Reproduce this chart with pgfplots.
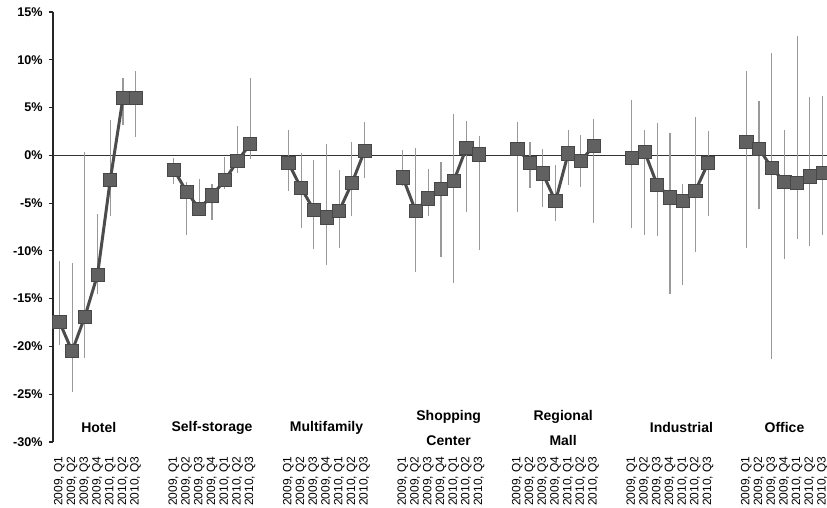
\documentclass[border=0pt]{standalone}
\usepackage{pgfplots}
\pgfplotsset{compat=1.18}
\usepackage{pgfplotstable}
\usepackage{fontspec}
\setmainfont{Liberation Sans}

\pgfplotstableread{
x y lo hi
0 -17.4 -19.9 -11.1
1 -20.5 -24.8 -11.3
2 -16.9 -21.2 0.3
3 -12.5 -14.5 -6.1
4 -2.6 -6.4 3.7
5 6.0 3.2 8.1
6 6.0 1.9 8.8
7 nan nan nan
9 -1.5 -3.0 -0.3
10 -3.8 -8.3 -2.8
11 -5.6 -6.4 -2.5
12 -4.2 -6.8 -3.0
13 -2.6 -3.5 -0.2
14 -0.6 -1.8 3.1
15 1.2 -0.4 8.1
16 nan nan nan
18 -0.8 -3.7 2.7
19 -3.4 -7.6 0.2
20 -5.7 -9.8 -0.5
21 -6.5 -11.5 1.2
22 -5.8 -9.7 -1.5
23 -2.9 -6.4 1.4
24 0.5 -2.4 3.5
25 nan nan nan
27 -2.3 -3.2 0.6
28 -5.8 -12.2 0.8
29 -4.5 -6.3 -1.4
30 -3.5 -10.6 -0.7
31 -2.7 -13.4 4.3
32 0.8 -5.9 3.6
33 0.1 -9.9 2.0
34 nan nan nan
36 0.7 -5.9 3.5
37 -0.8 -3.4 1.4
38 -1.9 -5.4 0.7
39 -4.8 -6.9 -1.0
40 0.2 -3.1 2.6
41 -0.6 -3.3 2.1
42 1.0 -7.1 3.8
43 nan nan nan
45 -0.3 -7.6 5.8
46 0.4 -8.3 2.7
47 -3.1 -8.4 3.4
48 -4.4 -14.5 2.3
49 -4.8 -13.6 -3.0
50 -3.7 -10.1 4.0
51 -0.8 -6.3 2.5
52 nan nan nan
54 1.4 -9.7 8.8
55 0.7 -5.6 5.7
56 -1.3 -21.3 10.7
57 -2.8 -10.9 2.6
58 -2.9 -8.8 12.5
59 -2.2 -9.5 6.1
60 -1.8 -8.3 6.2
}\datatable

\begin{document}
\begin{tikzpicture}
\begin{axis}[
  at={(0,0)}, anchor=south west, name=ax,
  scale only axis, width=388pt, height=215pt,
  xmin=-0.5, xmax=60.5, ymin=-30, ymax=15,
  axis y line*=left, axis x line*=bottom,
  x axis line style={draw=none},
  y axis line style={black!85, line width=0.6pt},
  x tick style={draw=none},
  y tick style={black!85, line width=0.6pt},
  tick align=outside, major tick length=2pt,
  ytick={-30,-25,-20,-15,-10,-5,0,5,10,15},
  yticklabels={{-30\%},{-25\%},{-20\%},{-15\%},{-10\%},{-5\%},{0\%},{5\%},{10\%},{15\%}},
  yticklabel style={font=\bfseries\fontsize{6.3}{7}\selectfont, inner sep=0pt, xshift=-3pt},
  xtick={0,1,2,3,4,5,6,9,10,11,12,13,14,15,18,19,20,21,22,23,24,27,28,29,30,31,32,33,36,37,38,39,40,41,42,45,46,47,48,49,50,51,54,55,56,57,58,59,60},
  xticklabels={
   {2009, Q1},{2009, Q2},{2009, Q3},{2009, Q4},{2010, Q1},{2010, Q2},{2010, Q3},
   {2009, Q1},{2009, Q2},{2009, Q3},{2009, Q4},{2010, Q1},{2010, Q2},{2010, Q3},
   {2009, Q1},{2009, Q2},{2009, Q3},{2009, Q4},{2010, Q1},{2010, Q2},{2010, Q3},
   {2009, Q1},{2009, Q2},{2009, Q3},{2009, Q4},{2010, Q1},{2010, Q2},{2010, Q3},
   {2009, Q1},{2009, Q2},{2009, Q3},{2009, Q4},{2010, Q1},{2010, Q2},{2010, Q3},
   {2009, Q1},{2009, Q2},{2009, Q3},{2009, Q4},{2010, Q1},{2010, Q2},{2010, Q3},
   {2009, Q1},{2009, Q2},{2009, Q3},{2009, Q4},{2010, Q1},{2010, Q2},{2010, Q3}},
  xticklabel style={rotate=90, anchor=east, inner sep=0pt, font=\fontsize{6}{6.5}\selectfont},
  xticklabel shift=5pt,
  clip=false,
]
\addplot[black!80, line width=0.6pt, forget plot] coordinates {(-0.5,0) (60.5,0)};
\addplot[only marks, mark=none, forget plot,
  error bars/.cd, y dir=both, y explicit, error mark=none,
  error bar style={draw=black!40, line width=0.55pt}]
  table[x=x, y=y, y error plus expr=\thisrow{hi}-\thisrow{y}, y error minus expr=\thisrow{y}-\thisrow{lo}] {\datatable};
\addplot[black!70, line width=1.5pt, unbounded coords=jump,
  mark=square*, mark size=3.3pt, mark options={fill=black!62, draw=black!72, line width=0.4pt}]
  table[x=x, y=y] {\datatable};
\begin{scope}[every node/.style={font=\bfseries\fontsize{7}{12.5}\selectfont, align=center}]
\node at (axis cs:3.1,-28.5) {Hotel};
\node at (axis cs:12,-28.5) {Self-storage};
\node at (axis cs:21,-28.5) {Multifamily};
\node at (axis cs:30.6,-28.5) {Shopping\\Center};
\node at (axis cs:39.6,-28.5) {Regional\\Mall};
\node at (axis cs:48.9,-28.5) {Industrial};
\node at (axis cs:57,-28.5) {Office};
\end{scope}
\end{axis}
\pgfresetboundingbox
\path (-26.5pt,-33pt) rectangle (387pt,221pt);
\end{tikzpicture}
\end{document}
